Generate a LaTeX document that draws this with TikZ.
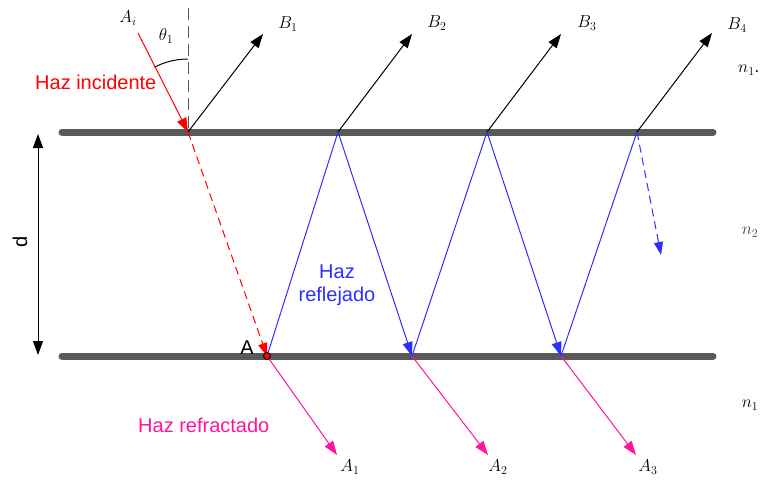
\documentclass[tikz,border=0pt]{standalone}
\usepackage{fontspec}
\setmainfont{Liberation Sans}
\usetikzlibrary{arrows.meta}
\definecolor{slab}{HTML}{595959}
\definecolor{incred}{HTML}{FF0000}
\definecolor{reflblue}{HTML}{2E2EFF}
\definecolor{refrpink}{HTML}{FF149E}
\definecolor{blurgray}{HTML}{4A4A4A}
\begin{document}
\begin{tikzpicture}[x=1pt,y=-1pt,
  surface/.style={line width=7pt, color=slab, line cap=round},
  tip/.style={-{Triangle[length=14pt,width=10pt]}},
  outray/.style={line width=1pt, black, tip},
  reflray/.style={line width=1pt, reflblue},
  refrray/.style={line width=1pt, refrpink, tip},
  lbl/.style={font=\fontsize{17}{19}\selectfont, inner sep=0pt},
  txt/.style={font=\fontsize{20}{22}\selectfont, inner sep=0pt}]
\useasboundingbox (0,0) rectangle (762,479);
% surfaces
\coordinate (Ts) at (62,132); \coordinate (Te) at (713,132);
\coordinate (Bs) at (62,356); \coordinate (Be) at (713,356);
\draw[surface] (Ts) -- (Te);
\draw[surface] (Bs) -- (Be);
% points
\coordinate (P1) at (188,132); \coordinate (P2) at (338,132);
\coordinate (P3) at (487,132); \coordinate (P4) at (637,132);
\coordinate (Q1) at (267,356); \coordinate (Q2) at (412,356);
\coordinate (Q3) at (561,356);
\coordinate (E1) at (263,34); \coordinate (E2) at (412,34);
\coordinate (E3) at (561,34); \coordinate (E4) at (712,33);
\coordinate (S) at (138,33);
\coordinate (N) at (188,8);
\coordinate (R1) at (337,455); \coordinate (R2) at (488,455);
\coordinate (R3) at (636,455);
\coordinate (D) at (661,255);
\coordinate (dT) at (38,134); \coordinate (dB) at (38,355);
% normal
\draw[line width=1pt, slab, dash pattern=on 12pt off 6pt] (N) -- (P1);
% angle arc
\draw[line width=1pt, black] (188,59) arc[start angle=-90, end angle=-117.4, radius=73];
% incident ray
\draw[line width=1pt, incred, tip] (S) -- (P1);
\draw[line width=1pt, incred, dash pattern=on 8pt off 5pt, -{Triangle[length=13pt,width=9pt]}] (P1) -- (Q1);
% reflected outgoing rays
\draw[outray] (P1) -- (E1);
\draw[outray] (P2) -- (E2);
\draw[outray] (P3) -- (E3);
\draw[outray] (P4) -- (E4);
% internal zigzag
\draw[reflray] (Q1) -- (P2);
\draw[reflray, tip] (P2) -- (Q2);
\draw[reflray] (Q2) -- (P3);
\draw[reflray, tip] (P3) -- (Q3);
\draw[reflray] (Q3) -- (P4);
\draw[reflray, dash pattern=on 8pt off 5pt, -{Triangle[length=13pt,width=9pt]}] (P4) -- (D);
% refracted rays
\draw[refrray] (Q1) -- (R1);
\draw[refrray] (Q2) -- (R2);
\draw[refrray] (Q3) -- (R3);
% point A
\draw[fill=incred, draw=black, line width=0.8pt] (Q1) circle[radius=3.5];
% thickness arrow
\draw[line width=1pt, black, {Triangle[length=14pt,width=10pt]}-{Triangle[length=14pt,width=10pt]}] (dT) -- (dB);
% labels
\node[lbl] (lAi) at (128,18) {$A_i$};
\node[lbl] (lth) at (166,36) {$\theta_1$};
\node[lbl] (lB1) at (288,24) {$B_1$};
\node[lbl] (lB2) at (437,23) {$B_2$};
\node[lbl] (lB3) at (587,23) {$B_3$};
\node[lbl] (lB4) at (737,25) {$B_4$};
\node[lbl, anchor=west] (ln1t) at (738,70) {$n_1$.};
\node[lbl, text=blurgray] (ln2) at (750,232) {$n_2$};
\node[lbl] (ln1b) at (750,405) {$n_1$};
\node[lbl] (lA1) at (350,467) {$A_1$};
\node[lbl] (lA2) at (498,467) {$A_2$};
\node[lbl] (lA3) at (648,467) {$A_3$};
\node[txt, text=incred, anchor=west] (tinc) at (35,82) {Haz incidente};
\node[txt, text=reflblue, align=center] (tref) at (337,285) {Haz\\[1pt]reflejado};
\node[txt, text=refrpink, anchor=west] (trefr) at (138,425) {Haz refractado};
\node[txt] (tA) at (247,348) {A};
\node[txt, rotate=90] (td) at (20,242) {d};
\end{tikzpicture}
\end{document}
